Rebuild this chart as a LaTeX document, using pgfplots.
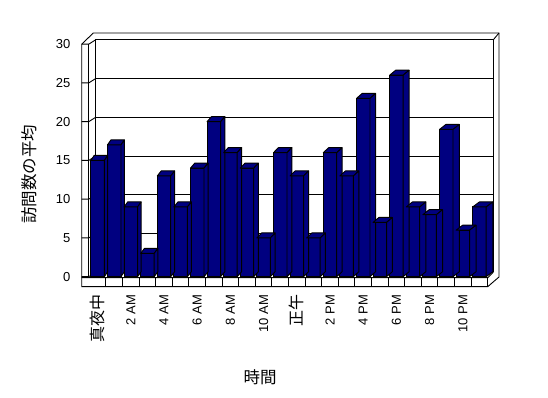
\documentclass[border=0pt]{standalone}
\usepackage{fontspec}
\setmainfont{Liberation Sans}
\newfontfamily\cjk{Noto Sans CJK JP}
\usepackage{pgfplots}
\usepackage{pgfplotstable}
\pgfplotsset{compat=1.18}
\definecolor{barnavy}{HTML}{000080}
\pgfdeclareplotmark{nothing}{}
\pgfplotstableread{
h v
0 15
1 17
2 9
3 3
4 13
5 9
6 14
7 20
8 16
9 14
10 5
11 16
12 13
13 5
14 16
15 13
16 23
17 7
18 26
19 9
20 8
21 19
22 6
23 9
}\visits
\begin{document}
\begin{tikzpicture}
\useasboundingbox (0,0) rectangle (548pt,398pt);
% ---- 3D frame (image coordinates, y downwards) ----
\begin{scope}[yshift=398pt, x=1pt, y=-1pt, line width=0.9pt]
  \foreach \v in {0,5,...,30}{
    \pgfmathsetmacro\yf{276.7-7.75*\v}
    \pgfmathsetmacro\yb{\yf-4.4}
    \draw (95.7,\yb) -- (493.3,\yb);
    \draw (81.7,\yf) -- (88.7,\yf) -- (95.7,\yb);
  }
  \draw (81.7,286.7) -- (81.7,44.2) -- (93.3,33) -- (499,33) -- (499,277) -- (487.7,286.7) -- cycle;
  \draw (88.7,276.7) -- (88.7,44.2);
  \draw (95.7,272.3) -- (95.7,39.8) -- (493.3,39.8) -- (493.3,272.3);
  \draw (493.3,39.8) -- (499,33);
  \draw (81.7,277.7) -- (487.7,277.7) -- (493.3,272.3);
  \draw (487.7,286.7) -- (487.7,277.7);
  \foreach \k in {1,...,23}{
    \draw ({89.3+16.6*\k},277.7) -- ++(0,9);
  }
\end{scope}
\begin{axis}[
  at={(97.6pt,121.3pt)}, anchor=origin,
  x=16.6pt, y=7.75pt,
  xmin=-0.5, xmax=23.5, ymin=0, ymax=30,
  clip=false,
  axis line style={draw=none},
  major tick length=0pt,
  xtick={0,2,...,22},
  xticklabels={{\cjk\fontsize{16}{18}\selectfont 真夜中},2 AM,4 AM,6 AM,8 AM,10 AM,{\cjk\fontsize{16}{18}\selectfont 正午},2 PM,4 PM,6 PM,8 PM,10 PM},
  ytick={0,5,...,30},
  /pgf/number format/assume math mode=true,
  tick label style={font=\fontsize{13}{15}\selectfont},
  xticklabel style={rotate=90, anchor=east},
  xticklabel shift=14.5pt,
  yticklabel shift=15.5pt,
  xlabel={時間}, ylabel={訪問数の平均},
  every axis x label/.style={at={(rel axis cs:0.4285,-0.4314)}, anchor=center, font=\cjk\fontsize{16.5}{18}\selectfont},
  every axis y label/.style={at={(rel axis cs:-0.1514,0.4417)}, rotate=90, anchor=center, font=\cjk\fontsize{16.5}{18}\selectfont},
]
\addplot[
  scatter, only marks, mark=nothing,
  visualization depends on={rawy \as \val},
  visualization depends on={rawx \as \xi},
  scatter/@pre marker code/.code={%
    \pgfscope
    \pgfkeys{/pgf/fpu=false}%
    \pgfmathsetmacro\ddx{3.3+0.148*\xi}%
    \pgfmathsetmacro\hh{7.75*\val}%
    \filldraw[fill=barnavy,draw=black,line width=0.9pt,line join=round]
      (-6.75pt,0pt) -- ({\ddx pt-6.75pt},5pt) -- ({\ddx pt+6.75pt},5pt) -- (6.75pt,0pt) -- cycle;
    \filldraw[fill=barnavy,draw=black,line width=0.9pt,line join=round]
      (6.75pt,0pt) -- ({\ddx pt+6.75pt},5pt) -- ({\ddx pt+6.75pt},{5pt-\hh pt}) -- (6.75pt,{-\hh pt}) -- cycle;
  },
  scatter/@post marker code/.code={\endpgfscope},
] table[x=h,y=v] {\visits};
\addplot[ybar, bar width=13.5pt, fill=barnavy, draw=black, line width=0.9pt] table[x=h,y=v] {\visits};
\end{axis}
\end{tikzpicture}
\end{document}
